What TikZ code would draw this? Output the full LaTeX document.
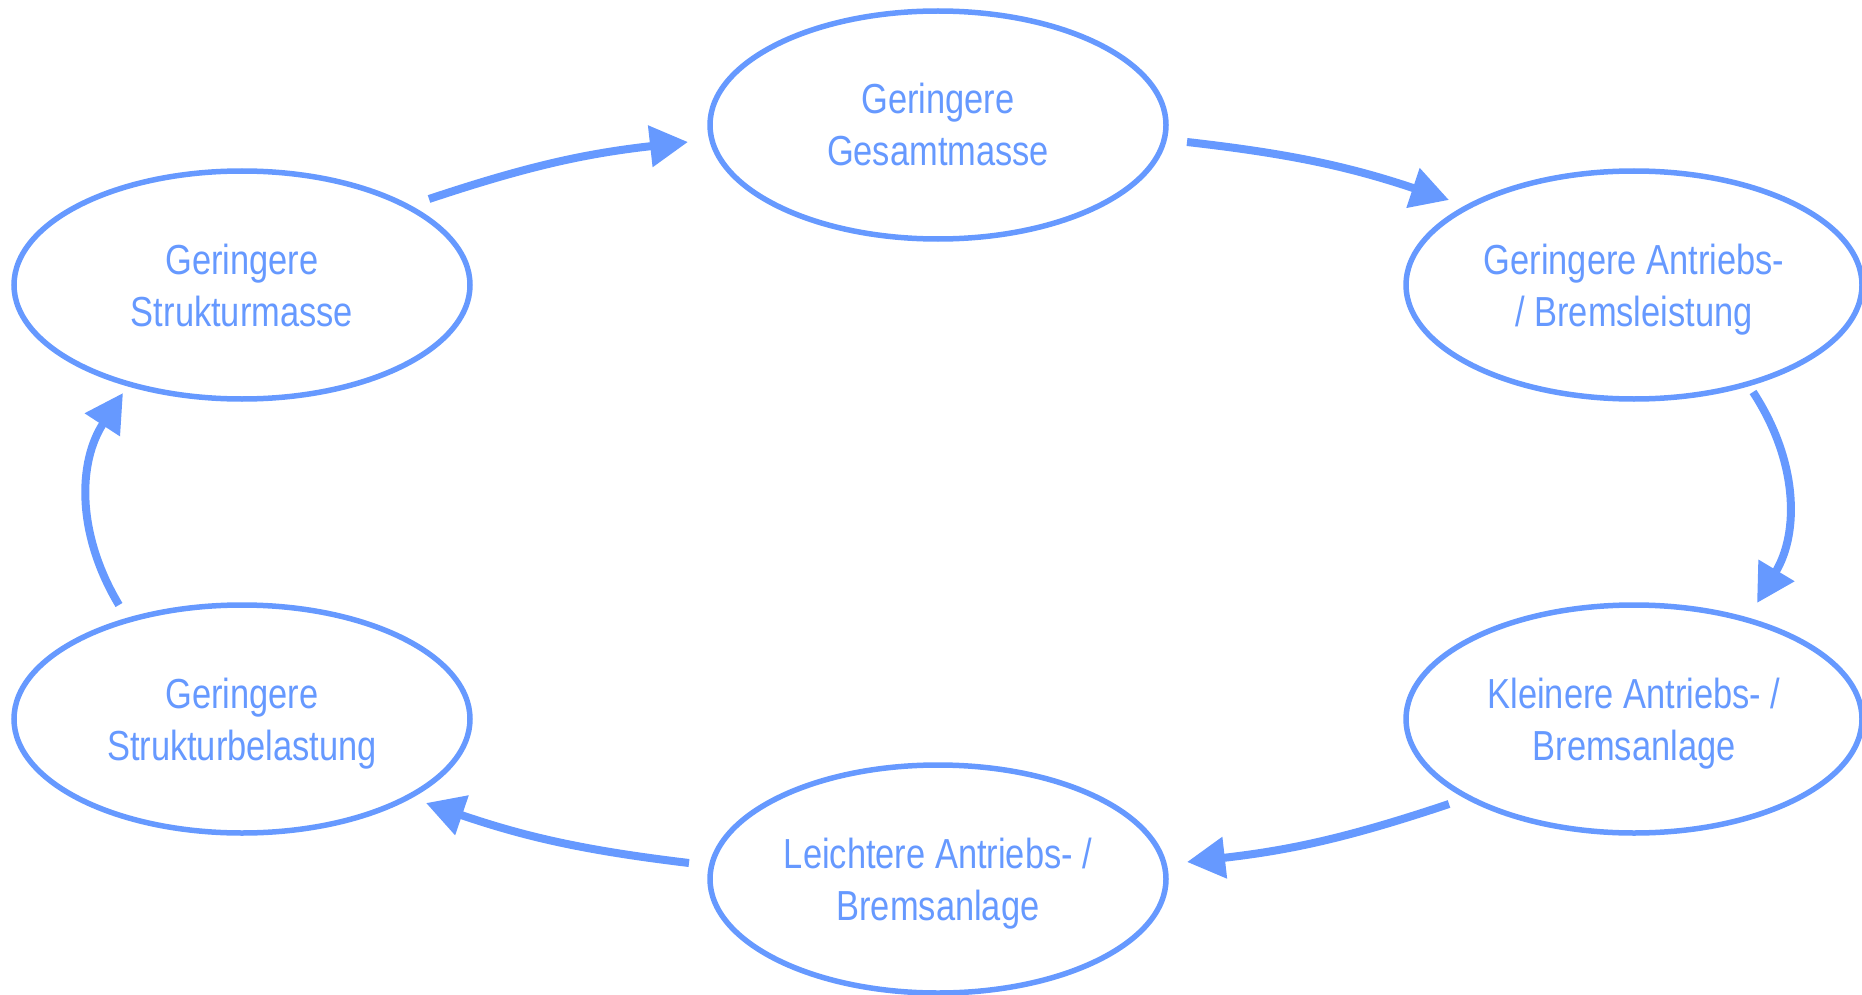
\documentclass[tikz,border=0pt]{standalone}
\usepackage{fontspec}
\setmainfont[FakeStretch=0.82]{Liberation Sans}
\usetikzlibrary{shapes.geometric,arrows.meta,calc}
\definecolor{cblue}{RGB}{102,153,255}
\newcommand{\toppad}{\rule{0pt}{40pt}}
\newcommand{\botpad}{\rule[-10pt]{0pt}{10pt}}
\begin{document}
\begin{tikzpicture}[x=1pt,y=1pt,
  state/.style={ellipse, draw=cblue, line width=5.5pt, minimum width=456pt,
    minimum height=228pt, inner sep=0pt, align=center, text=cblue,
    font=\fontsize{42}{52}\selectfont},
  flow/.style={draw=cblue, line width=8pt, -{Triangle[length=38pt,width=40pt]}}]
\useasboundingbox (0,0) rectangle (1862,-995);
\node[state] (T)  at (938,-125)  {\toppad Geringere\\Gesamtmasse\botpad};
\node[state] (LU) at (242,-285)  {\toppad Geringere\\Strukturmasse\botpad};
\node[state] (RU) at (1634,-285) {\toppad Geringere Antriebs-\\/ Bremsleistung\botpad};
\node[state] (RL) at (1634,-719) {\toppad Kleinere Antriebs- /\\Bremsanlage\botpad};
\node[state] (B)  at (938,-879)  {\toppad Leichtere Antriebs- /\\Bremsanlage\botpad};
\node[state] (LL) at (242,-719)  {\toppad Geringere\\Strukturbelastung\botpad};
\coordinate (a1s) at ($(LU.center)+(187,86)$);
\coordinate (a1e) at ($(T.center)+(-250,-17)$);
\coordinate (a2s) at ($(T.center)+(249,-17)$);
\coordinate (a2e) at ($(RU.center)+(-185,85)$);
\coordinate (a3s) at ($(RU.center)+(119,-107)$);
\coordinate (a3e) at ($(RL.center)+(123,116)$);
\coordinate (a4s) at ($(RL.center)+(-185,-85)$);
\coordinate (a4e) at ($(B.center)+(249,17)$);
\coordinate (a5s) at ($(B.center)+(-249,16)$);
\coordinate (a5e) at ($(LL.center)+(184,-84)$);
\coordinate (a6s) at ($(LL.center)+(-123,114)$);
\coordinate (a6e) at ($(LU.center)+(-119,-108)$);
\draw[flow] (a1s) to[bend left=6] (a1e);
\draw[flow] (a2s) to[bend left=6] (a2e);
\draw[flow] (a3s) to[bend left=32] (a3e);
\draw[flow] (a4s) to[bend left=6] (a4e);
\draw[flow] (a5s) to[bend left=6] (a5e);
\draw[flow] (a6s) to[bend left=32] (a6e);
\end{tikzpicture}
\end{document}
